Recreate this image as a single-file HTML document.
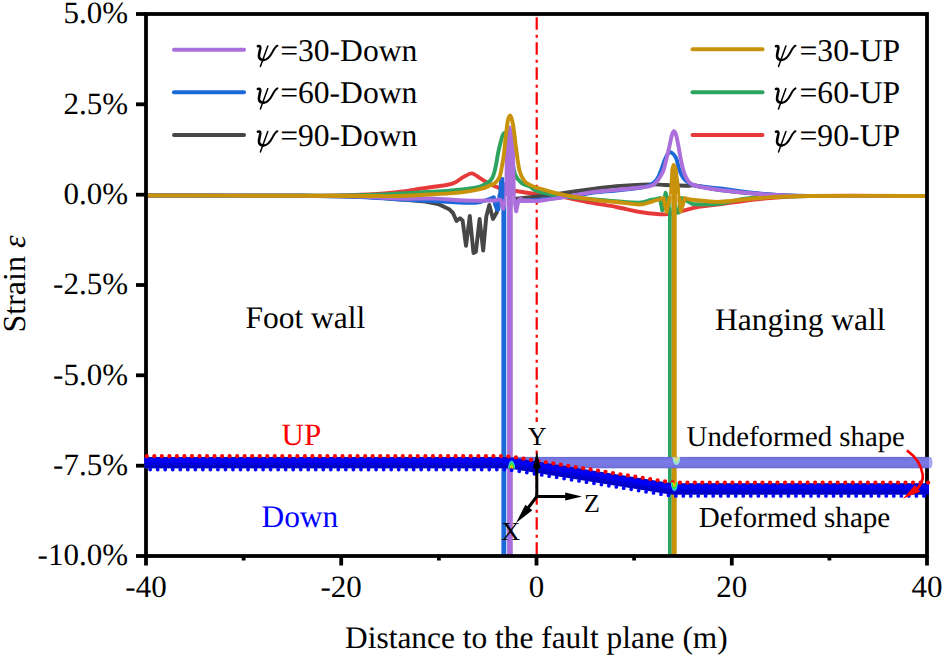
<!DOCTYPE html>
<html><head><meta charset="utf-8"><style>
html,body{margin:0;padding:0;background:#fff;}
svg{display:block;}
text{font-family:"Liberation Serif",serif;text-rendering:geometricPrecision;}
</style></head><body>
<svg width="944" height="658" viewBox="0 0 944 658">
<defs>
<clipPath id="pc"><rect x="146" y="14" width="781" height="542"/></clipPath>
<radialGradient id="hs1">
<stop offset="0" stop-color="#F02000"/><stop offset="0.28" stop-color="#F0D000"/><stop offset="0.55" stop-color="#30E030"/><stop offset="0.8" stop-color="#30D0E0"/><stop offset="1" stop-color="#2040F0" stop-opacity="0"/>
</radialGradient>
<radialGradient id="hs2">
<stop offset="0" stop-color="#E89080"/><stop offset="0.3" stop-color="#E0E088"/><stop offset="0.6" stop-color="#A0E8B0"/><stop offset="0.85" stop-color="#98D0F0"/><stop offset="1" stop-color="#7878E0" stop-opacity="0"/>
</radialGradient>
<linearGradient id="ug" gradientUnits="userSpaceOnUse" x1="0" y1="456.9" x2="0" y2="468.3">
<stop offset="0" stop-color="#6A6AD4"/><stop offset="0.18" stop-color="#7575DE"/><stop offset="0.5" stop-color="#7A7AE8"/><stop offset="0.82" stop-color="#7575DE"/><stop offset="1" stop-color="#6A6AD4"/>
</linearGradient>
<clipPath id="cA"><rect x="500" y="455" width="30" height="13.4"/></clipPath>
<clipPath id="cB"><rect x="660" y="482.3" width="30" height="12"/></clipPath>
<clipPath id="cC"><rect x="660" y="457" width="30" height="11"/></clipPath>

</defs>
<rect width="944" height="658" fill="#fff"/>
<!-- fault line -->
<line x1="536.7" y1="17.3" x2="536.7" y2="556" stroke="#F00" stroke-width="2.2" stroke-dasharray="12.5 5 3 4.5"/>
<g clip-path="url(#pc)">
<path d="M146.0 195.5 C171.7 195.6 264.2 195.9 300.0 195.8 C335.8 195.7 344.3 195.5 361.0 194.8 C377.7 194.1 390.7 192.7 400.0 191.8 C409.3 190.9 411.2 190.0 416.9 189.2 C422.5 188.3 428.9 187.4 433.9 186.7 C438.8 186.0 443.1 185.7 446.6 185.0 C450.1 184.3 452.3 183.8 455.1 182.5 C457.9 181.2 460.8 178.4 463.6 176.9 C466.4 175.4 469.3 173.2 472.0 173.4 C474.7 173.6 477.2 176.5 480.0 178.2 C482.8 179.9 485.7 181.9 489.0 183.5 C492.3 185.1 495.0 186.8 499.6 188.0 C504.2 189.2 510.3 190.0 516.5 191.0 C522.7 192.0 529.4 193.3 536.6 194.2 C543.9 195.1 551.0 195.1 560.0 196.5 C569.0 197.9 581.4 200.8 590.8 202.6 C600.2 204.3 607.8 205.4 616.3 207.0 C624.8 208.6 633.6 211.1 641.7 212.3 C649.8 213.5 658.3 214.6 665.0 214.4 C671.7 214.2 676.2 212.3 681.8 211.0 C687.4 209.7 692.1 207.9 698.5 206.8 C704.9 205.7 709.8 205.6 720.0 204.3 C730.2 203.0 745.2 200.4 760.0 199.0 C774.8 197.6 781.3 196.5 809.0 196.0 C836.7 195.5 906.5 196.0 926.0 196.0" stroke="#E63A3A" stroke-width="3.9" fill="none" stroke-linejoin="round" stroke-linecap="round" />
<path d="M146.0 195.5 C171.7 195.6 264.3 195.6 300.0 195.8 C335.7 196.0 343.3 196.2 360.0 196.8 C376.7 197.4 393.3 199.0 400.0 199.4" stroke="#474747" stroke-width="3.9" fill="none" stroke-linejoin="round" stroke-linecap="round" />
<path d="M400.0 199.4 L425.4 201.5 L438.1 204.1 L449.2 209.2 L453.0 213.0 L456.5 221.0 L460.0 218.3 L462.6 220.5 L466.0 245.7 L469.8 215.9 L473.5 253.0 L475.9 251.7 L479.6 218.9 L483.2 250.5 L486.3 216.5 L489.3 204.9 L493.0 218.9 L496.6 212.8 L500.0 200.0" stroke="#474747" stroke-width="3.9" fill="none" stroke-linejoin="round" stroke-linecap="round" />
<path d="M500.0 200.0 C503.5 199.7 514.9 198.9 521.0 198.3 C527.1 197.7 530.3 197.3 536.6 196.5 C542.9 195.7 550.0 194.9 559.0 193.7 C568.0 192.5 581.2 190.5 590.8 189.2 C600.3 187.9 606.3 186.9 616.3 186.1 C626.3 185.3 642.5 184.6 650.6 184.4 C658.7 184.2 658.8 184.8 665.0 185.0 C671.2 185.2 683.0 185.7 688.0 185.8 C693.0 185.9 689.8 184.8 695.1 185.5 C700.4 186.2 709.2 188.6 720.0 190.0 C730.8 191.4 745.2 193.0 760.0 194.0 C774.8 195.0 781.3 195.7 809.0 196.0 C836.7 196.3 906.5 196.0 926.0 196.0" stroke="#474747" stroke-width="3.9" fill="none" stroke-linejoin="round" stroke-linecap="round" />
<path d="M146.0 195.5 C171.7 195.6 264.3 195.6 300.0 195.8 C335.7 196.1 343.3 196.4 360.0 197.0 C376.7 197.6 384.9 198.7 400.0 199.5 C415.1 200.3 439.5 201.4 450.8 202.0 C462.1 202.6 462.9 202.8 467.8 202.8 C472.7 202.8 475.7 202.9 480.0 202.0 C484.3 201.1 491.4 198.2 493.7 197.4" stroke="#1B68D8" stroke-width="3.9" fill="none" stroke-linejoin="round" stroke-linecap="round" />
<path d="M493.7 197.4 L495.3 205.0 L497.0 209.5 L498.4 209.5 L499.5 195.0" stroke="#1B68D8" stroke-width="3.9" fill="none" stroke-linejoin="round" stroke-linecap="round" />
<path d="M497.4 206 L499.2 178.5 Q499.5 177 501 177 L502.8 177 Q504.2 177 504.2 179 L504.5 206 Z" fill="#1B68D8"/>
<path d="M503.85 185 L503.85 560" stroke="#1B68D8" stroke-width="4.9" fill="none" stroke-linejoin="round" stroke-linecap="round" />
<path d="M520.0 201.0 C522.8 200.8 529.9 200.6 536.6 200.0 C543.3 199.4 551.0 198.7 560.0 197.5 C569.0 196.3 581.4 194.2 590.8 193.0 C600.2 191.8 607.8 191.4 616.3 190.5 C624.8 189.6 636.1 188.4 641.7 187.5 C647.3 186.6 647.9 185.8 650.0 185.0 C652.1 184.2 652.7 183.8 654.1 182.5 C655.5 181.2 657.0 179.4 658.2 177.1 C659.5 174.8 660.5 171.8 661.6 168.8 C662.7 165.8 663.9 161.7 665.0 159.2 C666.1 156.7 667.0 154.7 668.0 153.6 C669.0 152.5 669.9 151.7 671.2 152.4 C672.5 153.1 674.6 154.9 676.0 157.9 C677.4 160.9 678.2 166.8 679.5 170.2 C680.8 173.6 682.1 176.3 683.6 178.4 C685.1 180.5 686.2 181.2 688.4 182.5 C690.6 183.8 691.5 185.0 696.8 186.0 C702.1 187.0 709.5 187.2 720.0 188.5 C730.5 189.8 745.2 192.2 760.0 193.5 C774.8 194.8 781.3 195.6 809.0 196.0 C836.7 196.4 906.5 196.0 926.0 196.0" stroke="#1B68D8" stroke-width="3.9" fill="none" stroke-linejoin="round" stroke-linecap="round" />
<path d="M146.0 195.5 C171.7 195.6 264.3 195.9 300.0 195.8 C335.7 195.8 343.3 195.6 360.0 195.2 C376.7 194.8 387.7 194.1 400.0 193.5 C412.3 192.9 424.0 192.4 433.9 191.8 C443.8 191.2 451.6 190.5 459.3 189.7 C467.0 188.8 474.8 188.3 480.0 186.7 C485.2 185.1 488.3 182.8 490.8 180.1 C493.3 177.4 493.5 175.6 494.8 170.6 C496.1 165.6 497.4 156.0 498.8 149.8 C500.2 143.6 502.1 135.6 503.5 133.6 C504.9 131.6 505.8 134.4 507.0 138.0 C508.2 141.6 509.6 148.8 511.0 155.0 C512.4 161.2 513.7 170.6 515.5 175.3 C517.3 180.0 519.5 181.4 521.9 183.3 C524.3 185.2 527.5 185.2 530.0 186.5 C532.5 187.8 531.6 189.4 536.6 191.0 C541.6 192.6 551.1 194.7 560.0 196.0 C568.9 197.3 580.6 198.1 590.0 199.0 C599.4 199.9 608.1 200.7 616.3 201.3 C624.5 201.9 633.3 202.8 639.0 202.6 C644.7 202.4 647.9 200.6 650.6 200.0 C653.3 199.4 653.5 199.6 655.0 199.3 C656.5 199.0 659.1 198.4 659.9 198.2" stroke="#2CA35F" stroke-width="3.9" fill="none" stroke-linejoin="round" stroke-linecap="round" />
<path d="M659.9 198.2 L662.3 210.4 L665.6 192.8 L668.5 203.0 L669.9 200.0" stroke="#2CA35F" stroke-width="3.9" fill="none" stroke-linejoin="round" stroke-linecap="round" />
<path d="M669.85 200 L669.85 560" stroke="#2CA35F" stroke-width="3.8" fill="none" stroke-linejoin="round" stroke-linecap="round" />
<path d="M675.0 203.0 L678.1 212.8 L681.7 198.2" stroke="#2CA35F" stroke-width="3.9" fill="none" stroke-linejoin="round" stroke-linecap="round" />
<path d="M681.7 198.2 C682.3 198.5 684.0 199.3 685.4 200.0 C686.8 200.7 688.4 201.8 690.0 202.5 C691.6 203.2 690.1 204.1 695.1 204.3 C700.1 204.5 710.7 204.6 720.0 203.5 C729.3 202.4 736.0 199.2 750.8 197.9 C765.6 196.7 779.8 196.3 809.0 196.0 C838.2 195.7 906.5 196.0 926.0 196.0" stroke="#2CA35F" stroke-width="3.9" fill="none" stroke-linejoin="round" stroke-linecap="round" />
<path d="M146.0 195.5 C171.7 195.6 264.3 195.6 300.0 195.8 C335.7 196.0 343.3 196.0 360.0 196.5 C376.7 197.0 387.7 198.2 400.0 198.6 C412.3 198.9 424.0 198.3 434.0 198.6 C444.0 198.9 452.3 200.0 460.0 200.3 C467.7 200.7 474.2 200.7 480.0 200.7 C485.8 200.7 492.5 200.5 495.0 200.5" stroke="#AB6FDC" stroke-width="3.9" fill="none" stroke-linejoin="round" stroke-linecap="round" />
<path d="M495.0 200.5 L498.0 199.5 L500.5 200.0 L503.3 208.8 L505.0 200.0" stroke="#AB6FDC" stroke-width="3.9" fill="none" stroke-linejoin="round" stroke-linecap="round" />
<path d="M514.5 200.0 L516.2 211.4 L518.3 201.0 L520.4 198.9 L524.0 200.5 L530.0 200.4" stroke="#AB6FDC" stroke-width="3.9" fill="none" stroke-linejoin="round" stroke-linecap="round" />
<path d="M504.2 205 L504.4 185 L505 152 L506.3 137 L508.2 128.5 Q510 122 511.8 128.5 L513.7 137 L515 152 L515.6 185 L515.8 205 Z" fill="#AB6FDC"/>
<path d="M506.3 196 L506.3 206 M512.8 196 L512.8 206" stroke="#D9C2F0" stroke-width="0.9"/>
<path d="M509.95 195 L509.95 560" stroke="#AB6FDC" stroke-width="5.7" fill="none" stroke-linejoin="round" stroke-linecap="round" />
<path d="M518.0 201.0 C521.1 201.0 532.9 201.1 536.6 201.0 C540.3 200.9 535.2 201.4 540.0 200.7 C544.8 200.0 556.9 198.3 565.4 196.9 C573.9 195.5 582.3 193.6 590.8 192.4 C599.3 191.2 607.8 190.8 616.3 189.9 C624.8 189.1 635.6 188.1 641.7 187.3 C647.8 186.5 650.0 186.6 652.7 185.3 C655.5 184.1 656.5 182.1 658.2 179.8 C659.9 177.5 661.6 175.0 663.0 171.6 C664.4 168.2 665.2 163.8 666.4 159.2 C667.5 154.6 669.0 148.2 669.9 144.2 C670.8 140.2 671.1 137.5 671.8 135.3 C672.5 133.1 673.3 131.2 674.0 131.2 C674.7 131.2 675.5 133.1 676.2 135.3 C676.9 137.5 677.3 140.2 678.1 144.2 C678.9 148.2 679.8 154.4 680.8 159.2 C681.8 164.0 682.9 169.3 684.2 173.0 C685.5 176.7 686.6 179.1 688.4 181.2 C690.2 183.3 689.8 184.0 695.1 185.5 C700.4 187.0 709.2 188.6 720.0 190.0 C730.8 191.4 745.2 193.0 760.0 194.0 C774.8 195.0 781.3 195.7 809.0 196.0 C836.7 196.3 906.5 196.0 926.0 196.0" stroke="#AB6FDC" stroke-width="3.9" fill="none" stroke-linejoin="round" stroke-linecap="round" />
<path d="M146.0 195.5 C171.7 195.6 264.3 195.7 300.0 195.8 C335.7 195.9 343.3 196.0 360.0 196.0 C376.7 196.0 387.7 196.3 400.0 196.0 C412.3 195.7 424.0 194.9 433.9 194.3 C443.8 193.7 451.6 193.4 459.3 192.6 C467.0 191.8 474.9 190.4 480.0 189.2 C485.1 188.0 487.5 186.5 490.0 185.5 C492.5 184.5 493.4 184.4 495.0 183.0 C496.6 181.6 498.4 179.7 499.6 176.9 C500.8 174.1 501.3 169.7 502.0 166.0 C502.7 162.3 503.2 160.0 503.8 155.0 C504.4 150.0 505.1 141.7 505.8 136.0 C506.5 130.3 507.1 124.4 507.8 121.0 C508.5 117.6 509.2 115.8 509.9 115.6 C510.6 115.4 511.3 117.4 512.0 120.0 C512.7 122.6 513.3 126.0 514.0 131.0 C514.7 136.0 515.4 143.2 516.3 149.8 C517.2 156.4 518.2 165.4 519.5 170.6 C520.8 175.8 522.5 178.5 524.3 180.9 C526.0 183.3 528.0 183.8 530.0 184.9 C532.0 186.0 531.6 186.1 536.6 187.6 C541.6 189.1 551.0 192.2 560.0 194.2 C569.0 196.2 581.4 198.1 590.8 199.4 C600.2 200.7 608.2 201.2 616.3 202.0 C624.3 202.8 633.4 204.5 639.1 204.5 C644.8 204.5 647.6 202.8 650.6 202.0 C653.6 201.2 654.9 200.6 657.0 200.0 C659.1 199.4 662.4 198.5 663.5 198.2" stroke="#C8920A" stroke-width="3.9" fill="none" stroke-linejoin="round" stroke-linecap="round" />
<path d="M668.6 203 L669.5 186.6 L670.4 168.8 Q673.3 156.5 677.5 168.8 L679.8 186.6 L680.6 203 Z" fill="#C8920A"/>
<path d="M671.1 194 L671.1 207.5 M677.2 194 L677.2 207.5" stroke="#F2E2B8" stroke-width="0.9"/>
<path d="M674.2 195 L674.2 560" stroke="#C8920A" stroke-width="5.0" fill="none" stroke-linejoin="round" stroke-linecap="round" />
<path d="M663.5 198.2 L666.6 212.0 L669.5 198.0" stroke="#C8920A" stroke-width="3.9" fill="none" stroke-linejoin="round" stroke-linecap="round" />
<path d="M679.5 198.0 L680.8 211.5 L684.8 198.2" stroke="#C8920A" stroke-width="3.9" fill="none" stroke-linejoin="round" stroke-linecap="round" />
<path d="M684.8 198.2 C685.7 198.4 688.3 199.2 690.0 199.5 C691.7 199.8 690.0 199.6 695.0 200.0 C700.0 200.4 709.2 202.1 720.0 201.8 C730.8 201.5 745.2 199.0 760.0 198.0 C774.8 197.0 781.3 196.3 809.0 196.0 C836.7 195.7 906.5 196.0 926.0 196.0" stroke="#C8920A" stroke-width="3.9" fill="none" stroke-linejoin="round" stroke-linecap="round" />
</g>
<!-- axes frame -->
<g stroke="#000" stroke-width="3.8" fill="none">
<rect x="146" y="14" width="781" height="542"/>
</g>
<g stroke="#000" stroke-width="3.8">
<line x1="136" y1="14.0" x2="146" y2="14.0"/>
<line x1="136" y1="104.3" x2="146" y2="104.3"/>
<line x1="136" y1="194.7" x2="146" y2="194.7"/>
<line x1="136" y1="285.0" x2="146" y2="285.0"/>
<line x1="136" y1="375.3" x2="146" y2="375.3"/>
<line x1="136" y1="465.7" x2="146" y2="465.7"/>
<line x1="136" y1="556.0" x2="146" y2="556.0"/>
<line x1="146.0" y1="556" x2="146.0" y2="565.5"/>
<line x1="341.2" y1="556" x2="341.2" y2="565.5"/>
<line x1="536.5" y1="556" x2="536.5" y2="565.5"/>
<line x1="731.8" y1="556" x2="731.8" y2="565.5"/>
<line x1="927.0" y1="556" x2="927.0" y2="565.5"/>
<line x1="243.6" y1="556" x2="243.6" y2="560.5"/>
<line x1="438.9" y1="556" x2="438.9" y2="560.5"/>
<line x1="634.1" y1="556" x2="634.1" y2="560.5"/>
<line x1="829.4" y1="556" x2="829.4" y2="560.5"/>
</g>
<!-- pipe -->
<g>
<rect x="144.6" y="456.9" width="784.4" height="11.4" fill="url(#ug)"/>
<path d="M929 456.9 L930 456.9 Q932.5 456.9 932.5 462.6 Q932.5 468.3 930 468.3 L929 468.3 Z" fill="#A8A8F6"/>
<path d="M144.6 462.60 L500.0 462.60 L502.0 462.62 L504.0 462.68 L506.0 462.78 L508.0 462.92 L510.0 463.10 L512.0 463.32 L514.0 463.59 L516.0 463.89 L668.0 488.36 L670.0 488.64 L672.0 488.84 L674.0 488.96 L676.0 489.00 L929.0 489.00" stroke="#0000C4" stroke-width="11.4" fill="none"/>
<path d="M144.6 462.60 L500.0 462.60 L502.0 462.62 L504.0 462.68 L506.0 462.78 L508.0 462.92 L510.0 463.10 L512.0 463.32 L514.0 463.59 L516.0 463.89 L668.0 488.36 L670.0 488.64 L672.0 488.84 L674.0 488.96 L676.0 489.00 L929.0 489.00" stroke="#0000D8" stroke-width="8" fill="none" transform="translate(0,-1.2)"/>
<path d="M144.6 462.60 L500.0 462.60 L502.0 462.62 L504.0 462.68 L506.0 462.78 L508.0 462.92 L510.0 463.10 L512.0 463.32 L514.0 463.59 L516.0 463.89 L668.0 488.36 L670.0 488.64 L672.0 488.84 L674.0 488.96 L676.0 489.00 L929.0 489.00" stroke="#0000F8" stroke-width="4" fill="none" transform="translate(0,-2)"/>
<path d="M146.80 456.15h0M154.33 456.15h0M161.86 456.15h0M169.39 456.15h0M176.91 456.15h0M184.44 456.15h0M191.97 456.15h0M199.50 456.15h0M207.03 456.15h0M214.56 456.15h0M222.09 456.15h0M229.61 456.15h0M237.14 456.15h0M244.67 456.15h0M252.20 456.15h0M259.73 456.15h0M267.26 456.15h0M274.79 456.15h0M282.31 456.15h0M289.84 456.15h0M297.37 456.15h0M304.90 456.15h0M312.40 456.15h0M319.90 456.15h0M327.40 456.15h0M334.95 456.15h0M342.50 456.15h0M350.05 456.15h0M357.60 456.15h0M365.15 456.15h0M372.70 456.15h0M380.25 456.15h0M387.80 456.15h0M395.30 456.15h0M402.80 456.15h0M410.30 456.15h0M417.80 456.15h0M425.36 456.15h0M432.93 456.15h0M440.49 456.15h0M448.05 456.15h0M455.62 456.15h0M463.18 456.15h0M470.75 456.15h0M478.31 456.15h0M485.87 456.15h0M493.44 456.15h0M501.00 456.16h0M508.30 456.50h0M515.90 457.42h0M523.50 458.65h0M531.00 459.85h0M538.40 461.04h0M545.80 462.24h0M553.30 463.44h0M560.76 464.64h0M568.22 465.85h0M575.68 467.05h0M583.14 468.25h0M590.60 469.45h0M598.05 470.65h0M605.49 471.85h0M612.94 473.05h0M620.39 474.24h0M627.83 475.44h0M635.28 476.64h0M642.73 477.84h0M650.17 479.04h0M657.62 480.24h0M665.07 481.44h0M672.51 482.43h0M679.96 482.55h0M687.41 482.55h0M694.85 482.55h0M702.30 482.55h0M709.82 482.55h0M717.35 482.55h0M724.88 482.55h0M732.40 482.55h0M739.92 482.55h0M747.44 482.55h0M754.96 482.55h0M762.48 482.55h0M770.00 482.55h0M777.52 482.55h0M785.04 482.55h0M792.56 482.55h0M800.08 482.55h0M807.60 482.55h0M815.13 482.55h0M822.66 482.55h0M830.19 482.55h0M837.73 482.55h0M845.26 482.55h0M852.79 482.55h0M860.32 482.55h0M867.85 482.55h0M875.38 482.55h0M882.91 482.55h0M890.44 482.55h0M897.98 482.55h0M905.51 482.55h0M913.04 482.55h0M920.57 482.55h0M928.10 482.55h0" stroke="#F00" stroke-width="4.2" fill="none" stroke-linecap="round"/>
<path d="M150.15 469.50h0M157.68 469.50h0M165.21 469.50h0M172.74 469.50h0M180.26 469.50h0M187.79 469.50h0M195.32 469.50h0M202.85 469.50h0M210.38 469.50h0M217.91 469.50h0M225.44 469.50h0M232.96 469.50h0M240.49 469.50h0M248.02 469.50h0M255.55 469.50h0M263.08 469.50h0M270.61 469.50h0M278.14 469.50h0M285.66 469.50h0M293.19 469.50h0M300.72 469.50h0M308.25 469.50h0M315.75 469.50h0M323.25 469.50h0M330.75 469.50h0M338.30 469.50h0M345.85 469.50h0M353.40 469.50h0M360.95 469.50h0M368.50 469.50h0M376.05 469.50h0M383.60 469.50h0M391.15 469.50h0M398.65 469.50h0M406.15 469.50h0M413.65 469.50h0M421.15 469.50h0M428.71 469.50h0M436.28 469.50h0M443.84 469.50h0M451.40 469.50h0M458.97 469.50h0M466.53 469.50h0M474.10 469.50h0M481.66 469.50h0M489.22 469.50h0M496.79 469.50h0M504.35 469.60h0M511.65 470.18h0M519.25 471.31h0M526.85 472.53h0M534.35 473.74h0M541.75 474.93h0M549.15 476.13h0M556.65 477.33h0M564.11 478.53h0M571.57 479.73h0M579.03 480.94h0M586.49 482.14h0M593.95 483.34h0M601.40 484.54h0M608.84 485.74h0M616.29 486.93h0M623.74 488.13h0M631.18 489.33h0M638.63 490.53h0M646.08 491.73h0M653.52 492.93h0M660.97 494.13h0M668.42 495.33h0M675.86 495.90h0M683.31 495.90h0M690.76 495.90h0M698.20 495.90h0M705.65 495.90h0M713.17 495.90h0M720.70 495.90h0M728.23 495.90h0M735.75 495.90h0M743.27 495.90h0M750.79 495.90h0M758.31 495.90h0M765.83 495.90h0M773.35 495.90h0M780.87 495.90h0M788.39 495.90h0M795.91 495.90h0M803.43 495.90h0M810.95 495.90h0M818.48 495.90h0M826.01 495.90h0M833.54 495.90h0M841.08 495.90h0M848.61 495.90h0M856.14 495.90h0M863.67 495.90h0M871.20 495.90h0M878.73 495.90h0M886.26 495.90h0M893.79 495.90h0M901.33 495.90h0M908.86 495.90h0M916.39 495.90h0M923.92 495.90h0" stroke="#00F" stroke-width="3.8" fill="none" stroke-linecap="round"/>
<ellipse cx="511.6" cy="469" rx="4" ry="9.5" fill="url(#hs1)" clip-path="url(#cA)"/>
<ellipse cx="674.4" cy="482.3" rx="4" ry="10" fill="url(#hs1)" clip-path="url(#cB)"/>
<ellipse cx="676.4" cy="457" rx="4.4" ry="9" fill="url(#hs2)" clip-path="url(#cC)"/>
</g>
<!-- coordinate axes -->
<g stroke="#000" stroke-width="3" fill="none">
<line x1="536.8" y1="466" x2="536.8" y2="497.9"/>
<line x1="535.3" y1="496.5" x2="567" y2="496.5"/>
<line x1="536.8" y1="496.5" x2="528" y2="508"/>
</g>
<g fill="#000">
<path d="M536.8 451.2 L532.9 468.6 L540.7 468.6 Z"/>
<path d="M582 496.5 L565.2 492.4 L565.2 500.6 Z"/>
<path d="M516 523 L525.3 504.8 L532.3 510.2 Z"/>
</g>
<rect x="527" y="422" width="20" height="28.5" fill="#fff"/>
<g font-size="26" fill="#000">
<text x="537.2" y="445" text-anchor="middle">Y</text>
<text x="584" y="512">Z</text>
<text x="501.2" y="539.6">X</text>
</g>
<!-- red curved arrow -->
<path d="M906.9 450.4 C916 457 921.5 466 922.7 474.6 C923.5 480 921 485 916 490" stroke="#F00" stroke-width="2.6" fill="none"/>
<path d="M902.9 498.8 L914.8 484.9 L920.2 491.4 Z" fill="#F00"/>
<g font-size="31" fill="#000">
<text x="128" y="23.3" text-anchor="end">5.0%</text>
<text x="128" y="113.6" text-anchor="end">2.5%</text>
<text x="128" y="204.0" text-anchor="end">0.0%</text>
<text x="128" y="294.3" text-anchor="end">-2.5%</text>
<text x="128" y="384.6" text-anchor="end">-5.0%</text>
<text x="128" y="475.0" text-anchor="end">-7.5%</text>
<text x="128" y="565.3" text-anchor="end">-10.0%</text>
<text x="146.0" y="596.5" text-anchor="middle">-40</text>
<text x="341.2" y="596.5" text-anchor="middle">-20</text>
<text x="536.5" y="596.5" text-anchor="middle">0</text>
<text x="731.8" y="596.5" text-anchor="middle">20</text>
<text x="927.0" y="596.5" text-anchor="middle">40</text>
</g>
<text x="536.4" y="648" font-size="31.4" text-anchor="middle">Distance to the fault plane (m)</text>
<text transform="translate(24.6,284) rotate(-90)" font-size="32" text-anchor="middle">Strain <tspan font-style="italic">ε</tspan></text>
<text x="245.4" y="328" font-size="31.5">Foot wall</text>
<text x="715" y="329.5" font-size="31.5">Hanging wall</text>
<text x="281.5" y="445" font-size="31" fill="#F00">UP</text>
<text x="261.5" y="527" font-size="31.4" fill="#00F">Down</text>
<text x="686.6" y="445.5" font-size="28.8">Undeformed shape</text>
<text x="698.8" y="527.4" font-size="29.1">Deformed shape</text>
<!-- legend -->
<g stroke-width="4" stroke-linecap="round">
<line x1="174" y1="49.7" x2="244" y2="49.7" stroke="#AB6FDC"/>
<line x1="174" y1="92.2" x2="244" y2="92.2" stroke="#1B68D8"/>
<line x1="174" y1="135" x2="244" y2="135" stroke="#474747"/>
<line x1="692.5" y1="49.3" x2="762.5" y2="49.3" stroke="#C8920A"/>
<line x1="692.5" y1="92.2" x2="762.5" y2="92.2" stroke="#2CA35F"/>
<line x1="692.5" y1="134.9" x2="762.5" y2="134.9" stroke="#E63A3A"/>
</g>
<g font-size="31.6">
<text x="280.2" y="60.6">=30-Down</text>
<text x="280.2" y="103.3">=60-Down</text>
<text x="280.2" y="146.1">=90-Down</text>
<text x="799.4" y="60.6" letter-spacing="0.08">=30-UP</text>
<text x="799.4" y="103.3" letter-spacing="0.08">=60-UP</text>
<text x="799.4" y="146.1" letter-spacing="0.08">=90-UP</text>
</g>
<g fill="none" stroke="#000" stroke-linecap="round">
<g transform="translate(257.0,60.5)"><path d="M0.9 -14.3 C2.3 -14.7 3.5 -14.5 3.3 -12.3 C2.9 -9.3 1.3 -5.3 2.2 -3 C2.9 -1.1 4.8 -0.5 6.6 -0.5" stroke-width="2.6"/><path d="M6.6 -0.5 C10.3 -0.5 13.4 -4.5 15.5 -8.5 C17.1 -11.5 18.3 -13.8 20.4 -14.8" stroke-width="2"/><path d="M10.8 -14.6 L3.4 5.9" stroke-width="1.5"/></g>
<g transform="translate(257.0,103.2)"><path d="M0.9 -14.3 C2.3 -14.7 3.5 -14.5 3.3 -12.3 C2.9 -9.3 1.3 -5.3 2.2 -3 C2.9 -1.1 4.8 -0.5 6.6 -0.5" stroke-width="2.6"/><path d="M6.6 -0.5 C10.3 -0.5 13.4 -4.5 15.5 -8.5 C17.1 -11.5 18.3 -13.8 20.4 -14.8" stroke-width="2"/><path d="M10.8 -14.6 L3.4 5.9" stroke-width="1.5"/></g>
<g transform="translate(257.0,146.0)"><path d="M0.9 -14.3 C2.3 -14.7 3.5 -14.5 3.3 -12.3 C2.9 -9.3 1.3 -5.3 2.2 -3 C2.9 -1.1 4.8 -0.5 6.6 -0.5" stroke-width="2.6"/><path d="M6.6 -0.5 C10.3 -0.5 13.4 -4.5 15.5 -8.5 C17.1 -11.5 18.3 -13.8 20.4 -14.8" stroke-width="2"/><path d="M10.8 -14.6 L3.4 5.9" stroke-width="1.5"/></g>
<g transform="translate(775.1,60.5)"><path d="M0.9 -14.3 C2.3 -14.7 3.5 -14.5 3.3 -12.3 C2.9 -9.3 1.3 -5.3 2.2 -3 C2.9 -1.1 4.8 -0.5 6.6 -0.5" stroke-width="2.6"/><path d="M6.6 -0.5 C10.3 -0.5 13.4 -4.5 15.5 -8.5 C17.1 -11.5 18.3 -13.8 20.4 -14.8" stroke-width="2"/><path d="M10.8 -14.6 L3.4 5.9" stroke-width="1.5"/></g>
<g transform="translate(775.1,103.2)"><path d="M0.9 -14.3 C2.3 -14.7 3.5 -14.5 3.3 -12.3 C2.9 -9.3 1.3 -5.3 2.2 -3 C2.9 -1.1 4.8 -0.5 6.6 -0.5" stroke-width="2.6"/><path d="M6.6 -0.5 C10.3 -0.5 13.4 -4.5 15.5 -8.5 C17.1 -11.5 18.3 -13.8 20.4 -14.8" stroke-width="2"/><path d="M10.8 -14.6 L3.4 5.9" stroke-width="1.5"/></g>
<g transform="translate(775.1,146.0)"><path d="M0.9 -14.3 C2.3 -14.7 3.5 -14.5 3.3 -12.3 C2.9 -9.3 1.3 -5.3 2.2 -3 C2.9 -1.1 4.8 -0.5 6.6 -0.5" stroke-width="2.6"/><path d="M6.6 -0.5 C10.3 -0.5 13.4 -4.5 15.5 -8.5 C17.1 -11.5 18.3 -13.8 20.4 -14.8" stroke-width="2"/><path d="M10.8 -14.6 L3.4 5.9" stroke-width="1.5"/></g>
</g>
</svg>
</body></html>
